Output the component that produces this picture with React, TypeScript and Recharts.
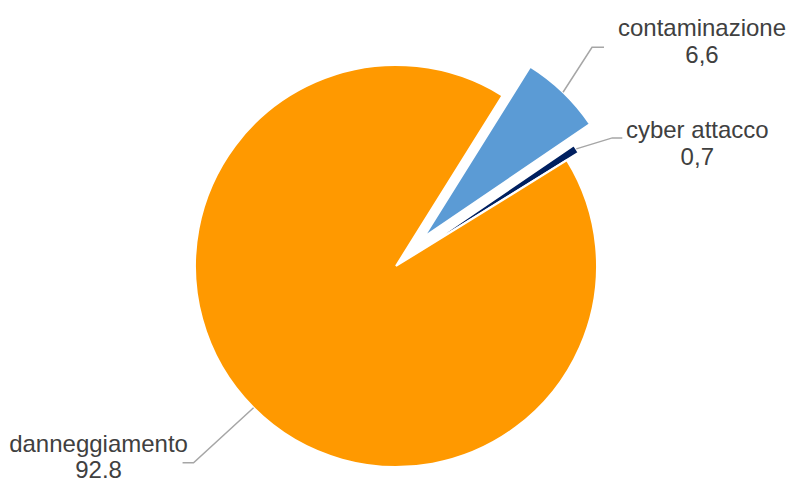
import React from "react";
import { PieChart, Pie, Cell, Sector } from "recharts";

const categories = ["contaminazione", "cyber attacco", "danneggiamento"];
const values = [6.6, 0.7, 92.8];
const valueLabels = ["6,6", "0,7", "92.8"];

const colors = ["#5B9BD5", "#002060", "#FF9900"];
const explode = [40, 14, 0];
// label layout: elbow offset from slice edge, tail length, text center offset from tail end, baseline offsets
const labelLayout = [
  { ex: 29, ey: -45, tail: 12, tx: 98, b1: -11, b2: 16 },
  { ex: 36, ey: -11, tail: 10, tx: 75, b1: 0, b2: 27 },
  { ex: -60, ey: 55, tail: -11, tx: -84, b1: -11, b2: 15 },
];

const data = categories.map((name, i) => ({ name, value: values[i], idx: i }));
const RAD = Math.PI / 180;

const ExplodedSector = (props: any) => {
  const { cx, cy, midAngle, payload } = props;
  const i = payload && payload.idx !== undefined ? payload.idx : props.index;
  const d = explode[i] || 0;
  const ncx = cx + d * Math.cos(-midAngle * RAD);
  const ncy = cy + d * Math.sin(-midAngle * RAD);
  return <Sector {...props} cx={ncx} cy={ncy} />;
};

const renderLabel = (props: any) => {
  const { cx, cy, midAngle, outerRadius, index } = props;
  const d = explode[index] || 0;
  const r = outerRadius + d;
  const sx = cx + r * Math.cos(-midAngle * RAD);
  const sy = cy + r * Math.sin(-midAngle * RAD);
  const L = labelLayout[index];
  const mx = sx + L.ex;
  const my = sy + L.ey;
  const ex = mx + L.tail;
  const tx = ex + L.tx;
  return (
    <g key={"lbl" + index}>
      <polyline
        points={`${sx},${sy} ${mx},${my} ${ex},${my}`}
        fill="none"
        stroke="#A6A6A6"
        strokeWidth={1.5}
      />
      <text
        x={tx}
        y={my + L.b1}
        textAnchor="middle"
        fill="#404040"
        fontSize={24}
        fontFamily="'Liberation Sans', Arial, sans-serif"
      >
        {categories[index]}
      </text>
      <text
        x={tx}
        y={my + L.b2}
        textAnchor="middle"
        fill="#404040"
        fontSize={24}
        fontFamily="'Liberation Sans', Arial, sans-serif"
      >
        {valueLabels[index]}
      </text>
    </g>
  );
};

export default function App() {
  return (
    <div style={{ position: "absolute", left: 0, top: 0, width: 786, height: 480, background: "#fff" }}>
      <PieChart width={786} height={480} margin={{ top: 0, right: 0, bottom: 0, left: 0 }}>
        <Pie
          data={data}
          dataKey="value"
          nameKey="name"
          cx={396}
          cy={266}
          outerRadius={201}
          startAngle={58}
          endAngle={-302}
          stroke="#ffffff"
          strokeWidth={2}
          isAnimationActive={false}
          shape={ExplodedSector}
          activeShape={ExplodedSector}
          inactiveShape={ExplodedSector}
          label={renderLabel}
          labelLine={false}
        >
          {data.map((e, i) => (
            <Cell key={e.name} fill={colors[i]} />
          ))}
        </Pie>
      </PieChart>
    </div>
  );
}
